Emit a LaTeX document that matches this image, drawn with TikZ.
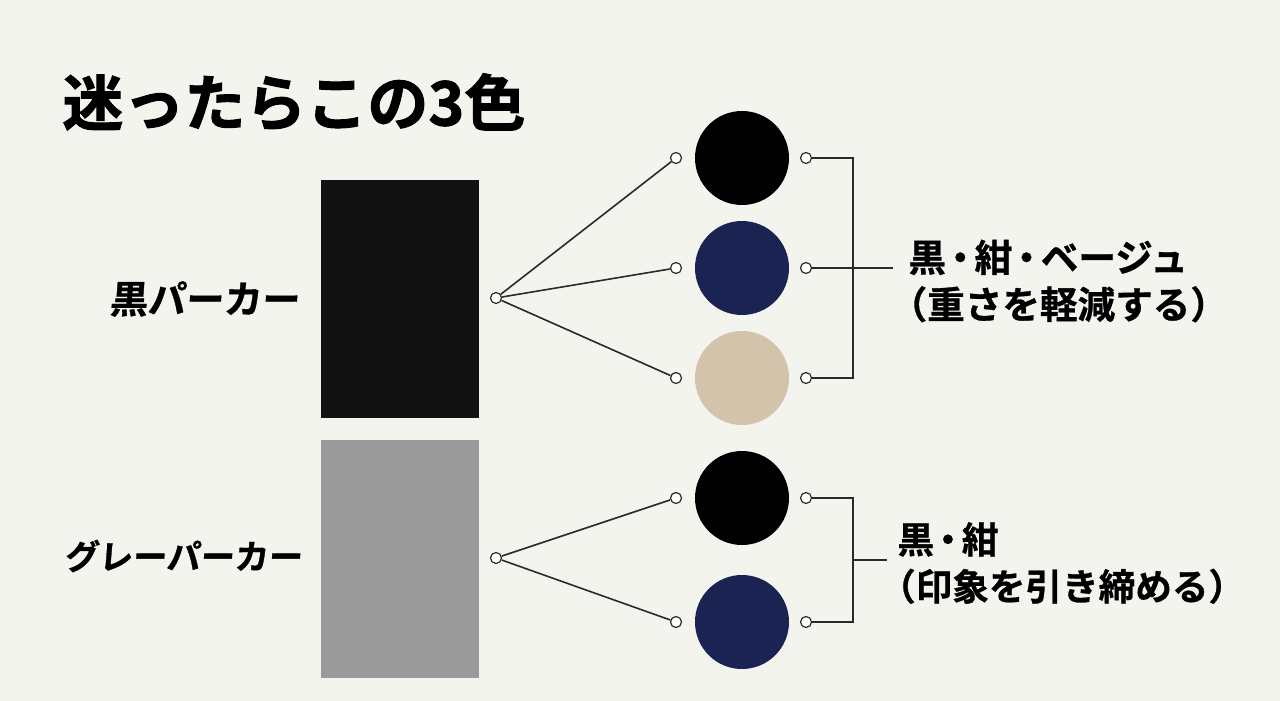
\documentclass[tikz,border=0pt]{standalone}
\usepackage{fontspec}
\newfontfamily\jpbold{Noto Sans CJK JP Bold}[FakeBold=0.8]
\newfontfamily\jpheavy{Noto Sans CJK JP Bold}[FakeBold=1.6]
\newfontfamily\jpslant{Noto Sans CJK JP Bold}[FakeSlant=0.08,FakeBold=1]
\usetikzlibrary{positioning}
\definecolor{paper}{HTML}{F4F4EF}
\definecolor{navy}{HTML}{1A2352}
\definecolor{beige}{HTML}{D3C3AA}
\definecolor{heather}{HTML}{9A9A9A}
\definecolor{wire}{HTML}{2A2A2A}
\newcommand{\mdot}{\kern-0.12em・\kern-0.12em}
\tikzset{
  dot/.style={circle,draw=wire,fill=white,line width=0.6pt,inner sep=0pt,minimum size=5.5pt},
  swatch/.style={circle,draw=none,inner sep=0pt,minimum size=47pt},
  label/.style={inner sep=0pt,anchor=west,font=\jpbold},
  link/.style={draw=wire,line width=0.8pt}
}

\begin{document}
\begin{tikzpicture}[x=0.5pt,y=-0.5pt]
\fill[paper] (0,0) rectangle (1280,701);
\useasboundingbox (0,0) rectangle (1280,701);
\node[label,font=\jpheavy\fontsize{30.5}{36}\selectfont] (title) at (62,102) {迷ったらこの3色};
% hoodies
\fill[black!93] (321,180) rectangle (479,418);
\fill[heather] (321,440) rectangle (479,678);
\node[label,font=\jpslant\fontsize{19}{23}\selectfont] (blackhd) at (109,299) {黒パーカー};
\node[label,font=\jpslant\fontsize{17}{21}\selectfont] (grayhd) at (64,556) {グレーパーカー};
% first group
\node[dot] (r1) at (496,298) {};
\node[dot] (a1) at (676,158) {};
\node[dot] (a2) at (676,268) {};
\node[dot] (a3) at (676,378) {};
\node[swatch,fill=black] (c1) at (742,158) {};
\node[swatch,fill=navy] (c2) at (742,268) {};
\node[swatch,fill=beige] (c3) at (742,378) {};
\node[dot] (b1) at (806,158) {};
\node[dot] (b2) at (806,268) {};
\node[dot] (b3) at (806,378) {};
\draw[link] (r1) -- (a1);
\draw[link] (r1) -- (a2);
\draw[link] (r1) -- (a3);
\coordinate (k1) at (853,158);
\coordinate (k3) at (853,378);
\coordinate (m1) at (853,268);
\coordinate (e1) at (893,268);
\draw[link] (b1) -- (k1) -- (k3) -- (b3);
\draw[link] (b2) -- (e1);
\node[label,align=left,font=\jpbold\fontsize{18.8}{23.5}\selectfont] (txt1) at (908,281)
  {黒\mdot 紺\mdot ベージュ\\\hspace*{-0.5em}（重さを軽減する）};
% second group
\node[dot] (r2) at (496,558) {};
\node[dot] (d1) at (676,498) {};
\node[dot] (d2) at (676,622) {};
\node[swatch,fill=black] (s1) at (742,498) {};
\node[swatch,fill=navy] (s2) at (742,622) {};
\node[dot] (f1) at (806,498) {};
\node[dot] (f2) at (806,622) {};
\draw[link] (r2) -- (d1);
\draw[link] (r2) -- (d2);
\coordinate (q1) at (853,498);
\coordinate (q2) at (853,622);
\coordinate (m2) at (853,560);
\coordinate (e2) at (887,560);
\draw[link] (f1) -- (q1) -- (q2) -- (f2);
\draw[link] (m2) -- (e2);
\node[label,align=left,font=\jpbold\fontsize{18.3}{23.5}\selectfont] (txt2) at (897,563)
  {黒\mdot 紺\\\hspace*{-0.5em}（印象を引き締める）};
\end{tikzpicture}
\end{document}
